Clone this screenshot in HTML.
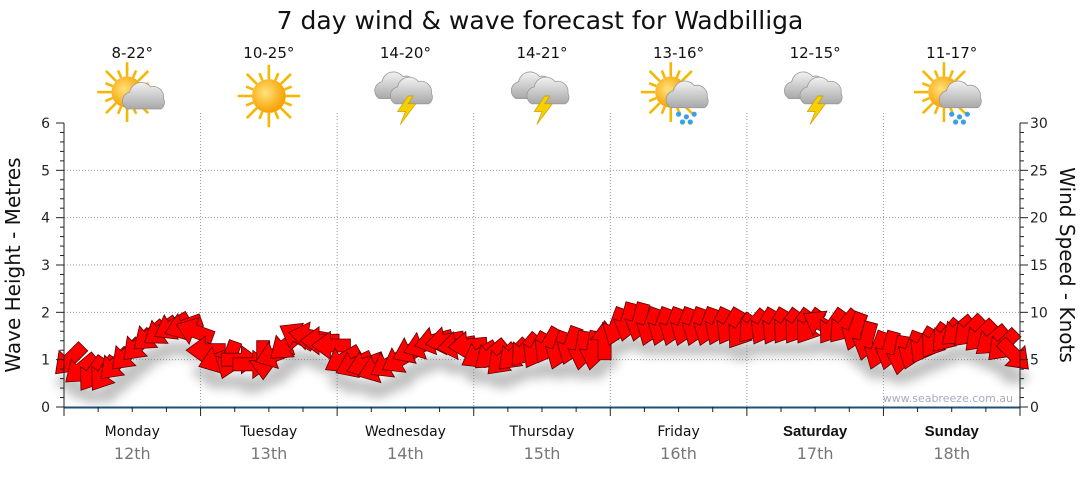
<!DOCTYPE html>
<html><head><meta charset="utf-8">
<style>
html,body{margin:0;padding:0;background:#fff;}
body{width:1080px;height:475px;overflow:hidden;font-family:"DejaVu Sans","Liberation Sans",sans-serif;}
</style></head>
<body>
<svg id="chart" width="1080" height="475" xmlns="http://www.w3.org/2000/svg">
<defs>
<filter id="sh" x="-50%" y="-50%" width="200%" height="250%"><feGaussianBlur stdDeviation="5"/></filter>
<radialGradient id="sun" cx="0.4" cy="0.4" r="0.6"><stop offset="0" stop-color="#ffe27a"/><stop offset="1" stop-color="#f7a000"/></radialGradient>
<linearGradient id="cloud" x1="0" y1="0" x2="0" y2="1"><stop offset="0" stop-color="#f2f2f2"/><stop offset="1" stop-color="#a8a8a8"/></linearGradient>
</defs>
<text x="540" y="29" text-anchor="middle" font-size="25" fill="#111">7 day wind &amp; wave forecast for Wadbilliga</text>
<g id="grid"></g>
<g id="shadows" filter="url(#sh)" opacity="0.45"></g>
<g id="arrows"></g>
<g id="axes"></g>
<g id="top"></g>
<text transform="translate(20,265) rotate(-90)" text-anchor="middle" font-size="20" fill="#111">Wave Height - Metres</text>
<text transform="translate(1060,265) rotate(90)" text-anchor="middle" font-size="20" fill="#111">Wind Speed - Knots</text>
<text x="1013" y="402" text-anchor="end" font-size="11" fill="#aab">www.seabreeze.com.au</text>
</svg>
<script>
const days=["Monday","Tuesday","Wednesday","Thursday","Friday","Saturday","Sunday"];
const dates=["12th","13th","14th","15th","16th","17th","18th"];
const temps=["8-22°","10-25°","14-20°","14-21°","13-16°","12-15°","11-17°"];
const icons=["partly","sun","storm","storm","rain","storm","rain"];
const waveTicks=[0,1,2,3,4,5,6];
const windTicks=[0,5,10,15,20,25,30];
// wind speed (knots), 2-hourly, 12 per day
const windSpeed=[5,4,3.5,3.5,4.5,5.5,6.5,7.5,8,8.5,8.5,8,
6,5,5,5,4.5,5,5.5,6.5,7.5,7.5,7,6.5,
5,4.5,4.5,4,4.5,5,6,6.5,7,7,6.5,6.5,
5.5,5.5,5,5.5,6,6,6.5,6,6.5,6,6,7,
8.5,9,9,8.5,8.5,8.5,8.5,8.5,8.5,8.5,8.5,8,
8.5,8.5,8.5,8.5,8.5,8.5,8.8,8.5,8.5,8,7,6,
6,5.5,6,6.5,7,7.5,8,8,7.5,7,6.5,5.5];
// direction arrow points (deg, 0=up, clockwise)
const windDir=[225,230,215,215,225,225,225,230,235,240,250,290,
270,250,200,90,90,180,250,230,300,280,270,270,
240,245,250,250,240,240,245,250,255,260,260,265,
240,230,225,225,220,210,210,200,200,190,190,0,
200,195,195,200,200,200,200,200,200,205,210,215,
220,210,210,215,215,215,300,215,220,200,195,200,
195,190,200,210,215,220,230,225,225,230,225,135];

const NS="http://www.w3.org/2000/svg";
const X0=64,X1=1020,Y0=407,Y1=123,dayW=(X1-X0)/7;
const yWave=v=>Y0-(Y0-Y1)*v/6;
const yWind=v=>Y0-(Y0-Y1)*v/30;
const xT=i=>X0+(i+0.5)*dayW/12;
function mk(tag,attrs,parent){const e=document.createElementNS(NS,tag);for(const k in attrs)e.setAttribute(k,attrs[k]);parent.appendChild(e);return e;}
const grid=document.getElementById('grid'),axes=document.getElementById('axes'),top_=document.getElementById('top');
waveTicks.forEach(v=>{if(v>0&&v<6){const l=mk('line',{x1:X0,x2:X1,y1:yWave(v),y2:yWave(v),stroke:'#999','stroke-dasharray':'1,2'},grid);

}});
for(let d=1;d<7;d++){const l=mk('line',{x1:X0+d*dayW,x2:X0+d*dayW,y1:Y1,y2:Y0,stroke:'#999','stroke-dasharray':'1,2'},grid);


mk('line',{x1:X0+d*dayW,x2:X0+d*dayW,y1:Y1-10,y2:Y1-2,stroke:'#999','stroke-dasharray':'1,2'},grid);}
mk('line',{x1:X0,x2:X0,y1:Y1,y2:Y0,stroke:'#222'},axes);
mk('line',{x1:X1,x2:X1,y1:Y1,y2:Y0,stroke:'#222'},axes);
mk('line',{x1:X0,x2:X1,y1:Y0+0.5,y2:Y0+0.5,stroke:'#1d4f7a','stroke-width':2},axes);
waveTicks.forEach(v=>{const t=mk('text',{x:50,y:yWave(v)+5,'text-anchor':'end','font-size':14,fill:'#222'},axes);t.textContent=v;


mk('line',{x1:X0-8,x2:X0,y1:yWave(v),y2:yWave(v),stroke:'#222'},axes);});
for(let k=0;k<=30;k++){if(k%5)mk('line',{x1:X0-4,x2:X0,y1:yWave(k/5),y2:yWave(k/5),stroke:'#222'},axes);}
windTicks.forEach(v=>{const t=mk('text',{x:1030,y:yWind(v)+5,'font-size':14,fill:'#222'},axes);t.textContent=v;


mk('line',{x1:X1,x2:X1+8,y1:yWind(v),y2:yWind(v),stroke:'#222'},axes);});
for(let k=0;k<=30;k++){if(k%5)mk('line',{x1:X1,x2:X1+4,y1:yWind(k),y2:yWind(k),stroke:'#222'},axes);}
for(let k=0;k<=28;k++){mk('line',{x1:X0+k*dayW/4,x2:X0+k*dayW/4,y1:Y0,y2:Y0+(k%4?5:9),stroke:'#222'},axes);}
days.forEach((d,i)=>{const cx=X0+(i+0.5)*dayW;const bold=i>=5;
const t=mk('text',{x:cx,y:436,'text-anchor':'middle','font-size':bold?15:14,fill:'#111','font-weight':bold?'bold':'normal','font-family':bold?'Liberation Sans, sans-serif':'DejaVu Sans, sans-serif'},top_);t.textContent=d;


const t2=mk('text',{x:cx,y:459,'text-anchor':'middle','font-size':16,fill:'#777'},top_);t2.textContent=dates[i];


const t3=mk('text',{x:cx,y:58,'text-anchor':'middle','font-size':15,fill:'#111'},top_);t3.textContent=temps[i];


const g=mk('g',{transform:`translate(${cx},96) scale(1.3)`},top_);


drawIcon(g,icons[i]);});
function sun(g,x,y,r){for(let a=0;a<360;a+=22.5){const rad=a*Math.PI/180,L=(a/22.5)%2?r+6:r+11;mk('line',{x1:x+Math.sin(rad)*r,y1:y-Math.cos(rad)*r,x2:x+Math.sin(rad)*L,y2:y-Math.cos(rad)*L,stroke:'#f5b800','stroke-width':2},g);}mk('circle',{cx:x,cy:y,r:r,fill:'url(#sun)'},g);}
function cloud(g,x,y,s){mk('path',{d:`M${x-14*s},${y+8*s} a7,7 0 0 1 2,-13 a9,9 0 0 1 16,-4 a8,8 0 0 1 10,9 a6,6 0 0 1 -2,8 z`,fill:'url(#cloud)',stroke:'#999','stroke-width':0.6},g);}
function drawIcon(g,t){
if(t==='sun'){sun(g,0,0,13);}
else if(t==='partly'){sun(g,-4,-3,12);cloud(g,10,2,1);}
else if(t==='storm'){cloud(g,-6,-6,1);cloud(g,6,-2,1);mk('path',{d:'M2,0 L-6,12 L0,12 L-4,22 L8,6 L2,6 L6,0z',fill:'#f6d000',stroke:'#c90','stroke-width':0.5},g);}
else{sun(g,-6,-3,12);cloud(g,8,1,1);[[0,14],[6,16],[12,14],[9,20],[3,20]].forEach(p=>mk('circle',{cx:p[0],cy:p[1],r:2,fill:'#3aa0e0'},g));}}
const arrowPath="M0,-20 L14,-1 L6.5,-1 L6.5,19 L-6.5,19 L-6.5,-1 L-14,-1 Z";
const sh=document.getElementById('shadows'),ar=document.getElementById('arrows');
windSpeed.forEach((v,i)=>{const x=xT(i),y=yWind(v);
mk('ellipse',{cx:x,cy:y+22,rx:14,ry:7,fill:'#777'},sh);
const p=mk('path',{d:arrowPath,transform:`translate(${x},${y}) rotate(${windDir[i]})`,fill:'#ff0000',stroke:'#5a0000','stroke-width':0.8},ar);

});
</script>
</body></html>
